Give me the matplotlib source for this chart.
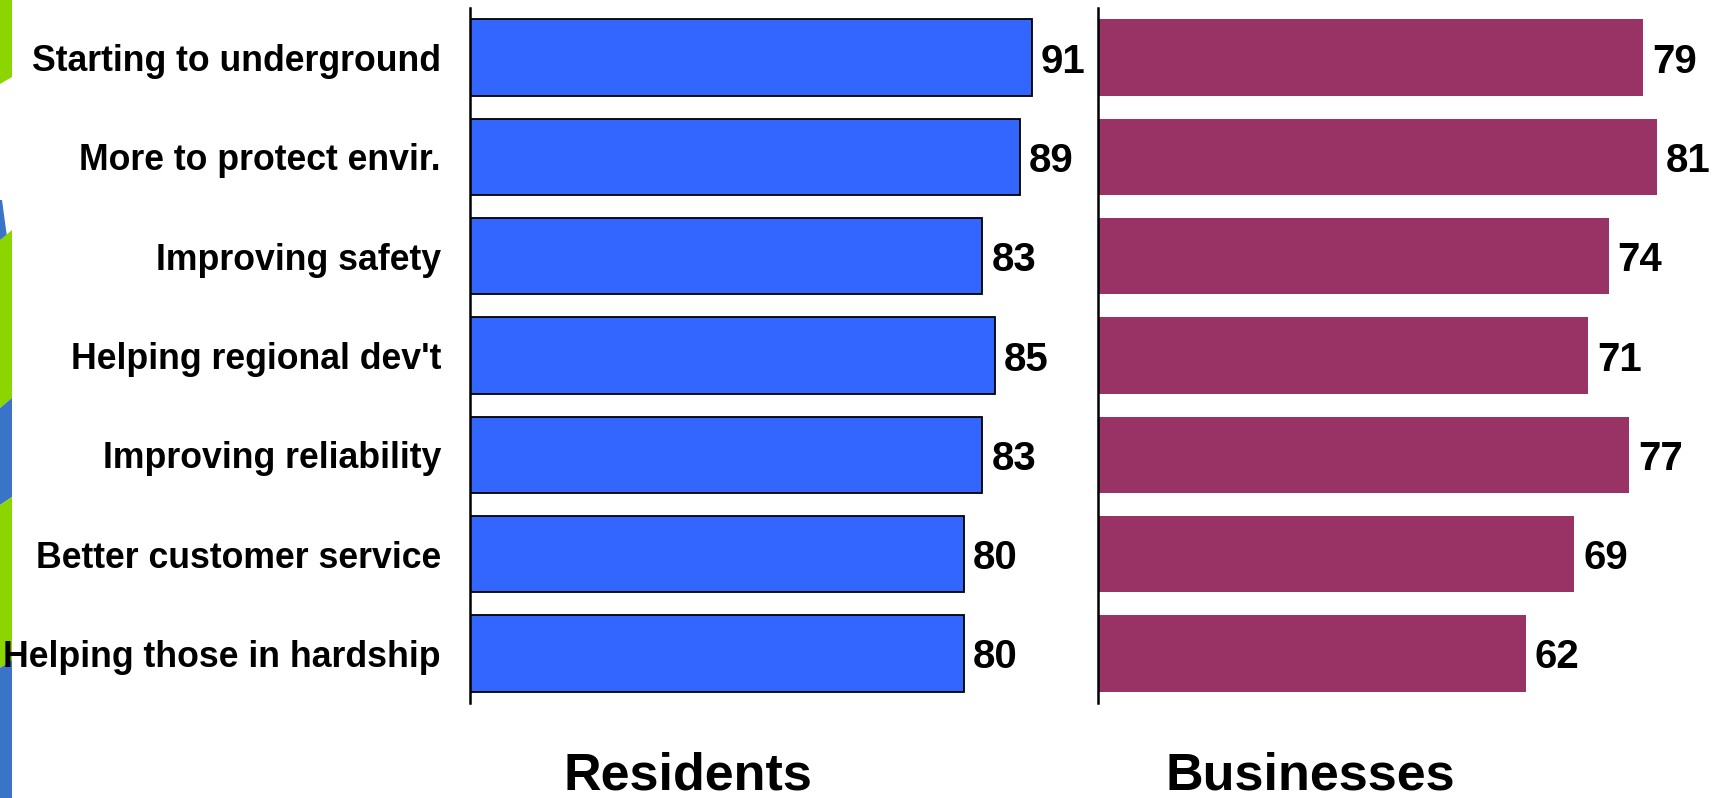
import matplotlib
matplotlib.use("Agg")
import matplotlib.pyplot as plt
from matplotlib.patches import Polygon
import numpy as np

plt.rcParams['font.family'] = ['Liberation Sans', 'DejaVu Sans']

categories = ["Starting to underground", "More to protect envir.", "Improving safety",
              "Helping regional dev't", "Improving reliability", "Better customer service",
              "Helping those in hardship"]
residents = [91, 89, 83, 85, 83, 80, 80]
businesses = [79, 81, 74, 71, 77, 69, 62]
panel_titles = ["Residents", "Businesses"]

W, H = 1712, 798
fig = plt.figure(figsize=(W / 100, H / 100), dpi=100)

def fx(px):
    return px / W

def fy(py):
    return 1 - py / H

bottom = fy(703)
height = fy(8) - bottom
ax1 = fig.add_axes([fx(469.5), bottom, fx(618), height])
ax2 = fig.add_axes([fx(1098), bottom, fx(621), height])

y = np.arange(len(categories))
ax1.barh(y, residents, height=0.77, color="#3366FF", edgecolor="black", linewidth=1.3)
ax2.barh(y, businesses, height=0.77, color="#993366", edgecolor="none")
ax1.set_xlim(0, 100)
ax2.set_xlim(0, 90)

for ax, vals in ((ax1, residents), (ax2, businesses)):
    ax.set_ylim(6.5, -0.5)
    for s in ("top", "right", "bottom"):
        ax.spines[s].set_visible(False)
    ax.spines["left"].set_linewidth(1.8)
    ax.set_xticks([])
    ax.tick_params(axis="y", length=0)
    for i, v in enumerate(vals):
        ax.annotate(str(v), (v, i), xytext=(6.5, 0), textcoords="offset points",
                    ha="left", va="center_baseline", fontsize=29, fontweight="bold")

ax1.set_yticks(y)
ax1.set_yticklabels(categories, fontsize=25.7, fontweight="bold")
ax1.tick_params(axis="y", pad=20.5)
ax2.set_yticks([])

fig.text(fx(688), fy(789), panel_titles[0], ha="center", va="baseline",
         fontsize=37.5, fontweight="bold")
fig.text(fx(1310), fy(789), panel_titles[1], ha="center", va="baseline",
         fontsize=37.5, fontweight="bold")

green = "#8CD600"
blue = "#3A74C8"
shapes = [
    (green, [(0, 0), (12, 0), (12, 77), (0, 84)]),
    (blue, [(0, 200), (2, 200), (7, 237), (0, 240)]),
    (green, [(0, 240), (12, 230), (12, 398), (0, 408)]),
    (blue, [(0, 408), (12, 398), (12, 497), (0, 505)]),
    (green, [(0, 505), (12, 497), (12, 660), (0, 668)]),
    (blue, [(0, 668), (12, 660), (12, 798), (0, 798)]),
]
for col, pts in shapes:
    poly = Polygon([(fx(px), fy(py)) for px, py in pts], closed=True,
                   transform=fig.transFigure, facecolor=col, edgecolor="none", zorder=0)
    fig.add_artist(poly)

fig.savefig("out.png", dpi=100)
